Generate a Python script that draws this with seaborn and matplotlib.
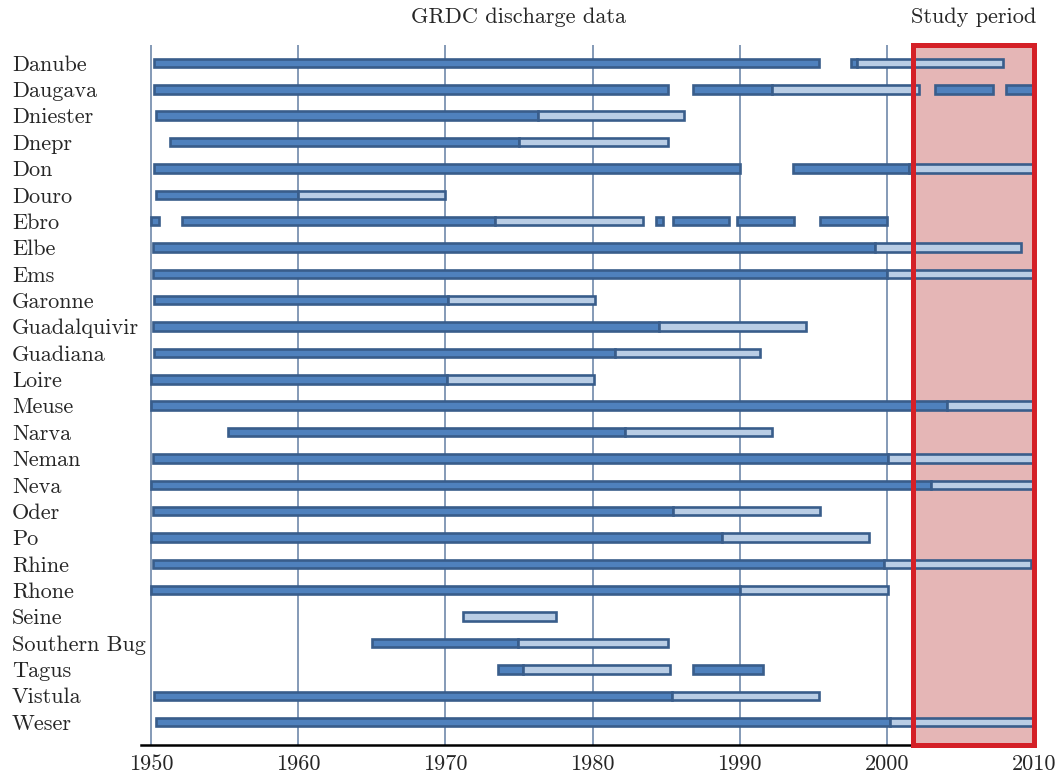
import matplotlib
matplotlib.use("Agg")
import matplotlib.pyplot as plt
from matplotlib.patches import Rectangle
from matplotlib.transforms import blended_transform_factory
import seaborn as sns

# Rivers, top to bottom
rivers = ["Danube", "Daugava", "Dniester", "Dnepr", "Don", "Douro", "Ebro",
          "Elbe", "Ems", "Garonne", "Guadalquivir", "Guadiana", "Loire",
          "Meuse", "Narva", "Neman", "Neva", "Oder", "Po", "Rhine", "Rhone",
          "Seine", "Southern Bug", "Tagus", "Vistula", "Weser"]

# Record spans (start year, end year) drawn in dark blue
dark_spans = [
    [(1950.2, 1995.4), (1997.6, 1998.0)],
    [(1950.2, 1985.1), (1986.8, 1992.2), (2003.3, 2007.2), (2008.1, 2010.0)],
    [(1950.3, 1976.3)],
    [(1951.3, 1975.0)],
    [(1950.2, 1990.0), (1993.6, 2001.5)],
    [(1950.3, 1960.0)],
    [(1950.0, 1950.5), (1952.1, 1973.4), (1984.3, 1984.8), (1985.5, 1989.3),
     (1989.8, 1993.7), (1995.5, 2000.0)],
    [(1950.1, 1999.2)],
    [(1950.1, 2000.0)],
    [(1950.2, 1970.2)],
    [(1950.1, 1984.5)],
    [(1950.2, 1981.5)],
    [(1950.0, 1970.1)],
    [(1950.0, 2004.1)],
    [(1955.2, 1982.2)],
    [(1950.1, 2000.1)],
    [(1950.0, 2003.0)],
    [(1950.1, 1985.5)],
    [(1950.0, 1988.8)],
    [(1950.1, 1999.8)],
    [(1950.0, 1990.0)],
    [],
    [(1965.0, 1974.9)],
    [(1973.6, 1975.3), (1986.8, 1991.6)],
    [(1950.2, 1985.4)],
    [(1950.3, 2000.2)],
]

# Record spans drawn in light blue
light_spans = [
    [(1998.0, 2007.9)],
    [(1992.2, 2002.2)],
    [(1976.3, 1986.2)],
    [(1975.0, 1985.1)],
    [(2001.5, 2010.0)],
    [(1960.0, 1970.0)],
    [(1973.4, 1983.4)],
    [(1999.2, 2009.1)],
    [(2000.0, 2010.0)],
    [(1970.2, 1980.2)],
    [(1984.5, 1994.5)],
    [(1981.5, 1991.4)],
    [(1970.1, 1980.1)],
    [(2004.1, 2010.0)],
    [(1982.2, 1992.2)],
    [(2000.1, 2010.0)],
    [(2003.0, 2010.0)],
    [(1985.5, 1995.5)],
    [(1988.8, 1998.8)],
    [(1999.8, 2009.8)],
    [(1990.0, 2000.1)],
    [(1971.2, 1977.5)],
    [(1974.9, 1985.1)],
    [(1975.3, 1985.3)],
    [(1985.4, 1995.4)],
    [(2000.2, 2010.0)],
]

year_ticks = [1950, 1960, 1970, 1980, 1990, 2000, 2010]
study_period = (2001.8, 2010.05)

sns.set_theme(style="white")
plt.rcParams["font.family"] = ["cmr10", "DejaVu Serif"]
plt.rcParams["axes.formatter.use_mathtext"] = True
plt.rcParams["mathtext.fontset"] = "cm"

FONT_SIZE = 16
DARK_FILL = "#4f81bd"
LIGHT_FILL = "#b9cde5"
EDGE = "#395d8b"
GRID = "#6f89aa"
RED = "#d42027"
PINK = "#e5b6b6"

fig = plt.figure(figsize=(10.57, 7.79), dpi=100)
ax = fig.add_axes([0.1334, 0.0436, 0.8460, 0.8986])

bar_h = 0.32
for i, river in enumerate(rivers):
    for s, e in dark_spans[i]:
        ax.barh(i, e - s, left=s, height=bar_h, color=DARK_FILL,
                edgecolor=EDGE, linewidth=1.9, zorder=3)
    for s, e in light_spans[i]:
        ax.barh(i, e - s, left=s, height=bar_h, color=LIGHT_FILL,
                edgecolor=EDGE, linewidth=1.9, zorder=3)

ax.set_xlim(1949.3, 2010.1)
ax.set_ylim(25.87, -0.68)

# Study period box: pink fill below the bars, red frame above them
y0, y1 = ax.get_ylim()
ax.add_patch(Rectangle((study_period[0], y1), study_period[1] - study_period[0],
                       y0 - y1, facecolor=PINK, edgecolor="none", zorder=1))
ax.add_patch(Rectangle((study_period[0], y1), study_period[1] - study_period[0],
                       y0 - y1, facecolor="none", edgecolor=RED, linewidth=3.6,
                       zorder=5, clip_on=False))

ax.set_xticks(year_ticks)
ax.set_xticklabels([str(y) for y in year_ticks], fontsize=FONT_SIZE)
ax.xaxis.grid(True, color=GRID, linewidth=1.2, zorder=0)
ax.yaxis.grid(False)
ax.set_axisbelow(True)
ax.tick_params(axis="x", length=0, pad=7)

ax.set_yticks(range(len(rivers)))
ax.set_yticklabels(rivers, fontsize=FONT_SIZE, ha="left")
ax.tick_params(axis="y", length=0, pad=93)

for side in ("top", "right", "left"):
    ax.spines[side].set_visible(False)
ax.spines["bottom"].set_color("black")
ax.spines["bottom"].set_linewidth(1.8)
ax.spines["bottom"].set_zorder(4)

trans = blended_transform_factory(ax.transData, ax.transAxes)
ax.text(1975, 1.04, "GRDC discharge data", transform=trans, ha="center",
        va="center", fontsize=FONT_SIZE)
ax.text(sum(study_period) / 2, 1.04, "Study period", transform=trans,
        ha="center", va="center", fontsize=FONT_SIZE)

fig.savefig("out.png", dpi=100)
